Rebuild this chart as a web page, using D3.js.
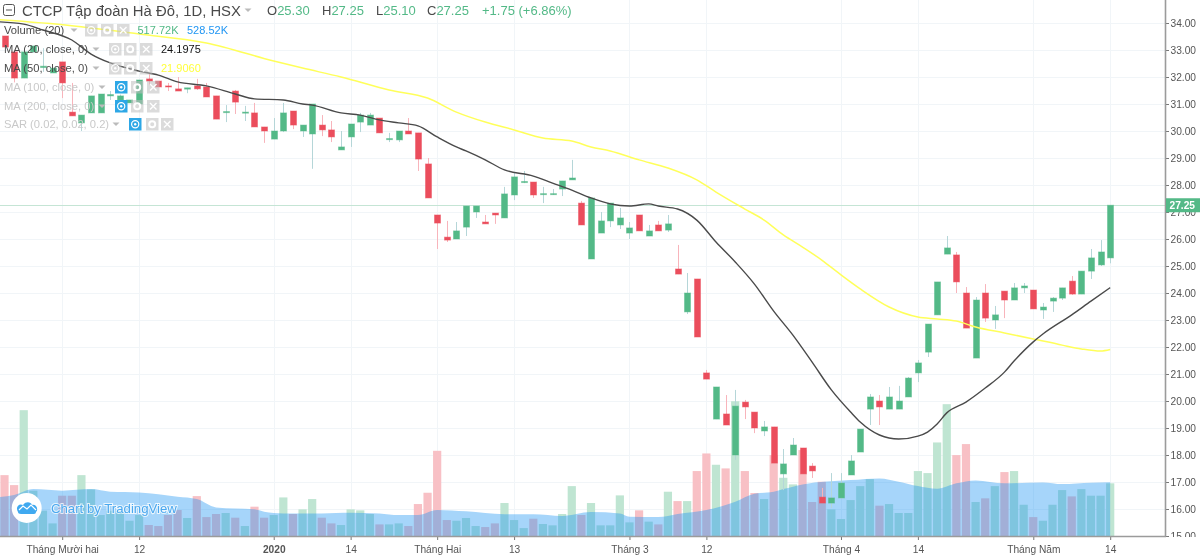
<!DOCTYPE html>
<html>
<head>
<meta charset="utf-8">
<script src="https://cdn.jsdelivr.net/npm/d3@7"></script>
<style>
  html, body { margin: 0; padding: 0; background: #fff; overflow: hidden; }
  svg { display: block; font-family: "Liberation Sans", Arial, sans-serif; filter: blur(.3px); }
</style>
</head>
<body>
<div id="chart"></div>
<script>
// candles, oldest first
const opens = [33.52,32.93,31.96,32.93,32.35,32.15,32.56,30.70,30.30,30.67,30.67,31.30,31.15,31.04,31.00,31.93,31.85,31.67,31.56,31.55,31.67,31.63,31.30,30.68,31.48,30.66,30.67,30.15,29.70,30.00,30.74,30.00,29.89,30.22,30.04,29.30,29.78,30.33,30.22,30.48,29.68,29.67,30.00,29.93,28.78,26.89,26.07,26.00,26.44,27.00,26.63,26.96,26.78,27.63,28.09,28.11,27.66,27.66,27.85,28.19,27.33,25.26,26.22,26.67,26.52,26.22,26.89,26.11,26.52,26.33,24.89,23.30,24.52,21.04,19.33,19.52,18.00,19.96,19.59,18.89,19.04,17.30,18.00,18.26,17.59,16.44,16.22,16.41,17.26,18.11,19.70,20.00,19.70,19.70,20.15,21.04,21.81,23.19,25.44,25.41,24.00,21.59,24.00,23.00,24.07,23.74,24.19,24.11,23.37,23.70,23.81,24.44,23.96,24.81,25.04,25.30];
const highs = [33.52,33.00,33.00,33.15,33.07,32.33,32.56,31.78,30.59,31.30,31.37,31.48,31.35,31.15,31.89,32.11,31.85,31.78,32.00,31.60,31.93,31.78,31.30,30.96,31.52,30.93,31.04,30.15,30.48,31.04,30.74,30.22,31.00,30.59,30.37,30.00,30.26,30.67,30.67,30.48,29.93,30.00,30.48,29.93,29.00,26.89,26.67,26.63,27.22,27.22,26.89,26.96,27.93,28.48,28.52,28.11,27.93,27.85,28.15,28.93,27.41,27.52,27.00,27.33,27.15,26.63,26.89,26.52,26.67,26.89,25.78,24.74,24.52,21.15,20.52,20.22,20.41,20.04,19.59,19.26,19.04,18.22,18.63,18.26,17.70,16.78,17.33,17.33,18.00,18.96,20.26,20.22,20.52,20.56,20.89,21.52,22.85,24.41,26.11,25.52,24.22,23.85,24.33,23.52,24.07,24.37,24.37,24.11,23.63,23.85,24.19,24.63,24.81,25.63,25.96,27.25];
const lows = [33.11,31.80,31.96,32.90,32.19,32.15,31.22,30.56,30.00,30.67,30.67,31.15,31.10,31.04,31.00,31.70,31.63,31.48,31.48,31.40,31.52,31.26,30.44,30.33,30.63,30.37,30.15,29.56,29.70,29.96,30.07,29.78,28.60,29.81,29.59,29.30,29.41,29.96,30.22,29.93,29.59,29.59,29.89,28.52,27.52,25.63,25.89,26.00,26.11,26.78,26.56,26.56,26.78,27.44,28.07,27.52,27.33,27.63,27.59,28.19,26.52,25.26,26.22,26.44,26.37,26.00,26.30,26.11,26.30,26.26,24.70,23.22,22.37,20.81,19.33,19.11,17.82,19.33,18.81,18.70,17.70,16.70,18.00,17.30,17.15,16.22,16.04,16.37,17.26,18.11,19.11,19.11,19.70,19.70,20.15,20.70,21.63,23.19,25.44,24.00,22.70,21.59,22.93,22.67,23.07,23.74,24.00,23.41,23.04,23.30,23.74,23.93,23.96,24.52,25.00,25.10];
const closes = [33.11,31.96,32.93,33.15,32.40,32.33,31.78,30.56,30.59,31.30,31.37,31.35,31.30,31.15,31.89,31.85,31.63,31.63,31.48,31.60,31.56,31.26,30.44,30.72,31.07,30.70,30.15,30.00,30.00,30.67,30.22,30.22,31.00,30.04,29.78,29.41,30.26,30.59,30.59,29.93,29.72,30.00,29.89,28.96,27.52,26.59,25.96,26.30,27.22,27.22,26.56,26.89,27.67,28.30,28.13,27.63,27.68,27.68,28.15,28.26,26.52,27.52,26.67,27.33,26.78,26.41,26.30,26.30,26.30,26.56,24.70,24.00,22.37,20.81,20.52,19.11,19.81,19.78,19.00,19.04,17.70,17.67,18.37,17.30,17.41,16.22,16.41,16.96,17.78,18.96,20.15,19.78,20.15,20.00,20.85,21.41,22.85,24.41,25.67,24.41,22.70,23.74,23.07,23.19,23.74,24.19,24.26,23.41,23.48,23.81,24.19,23.96,24.81,25.30,25.52,27.25];
// volume in thousands
const volumes = [598,500,1236,445,249,124,396,396,598,458,206,249,249,150,206,108,98,206,255,177,392,186,216,226,180,98,288,180,206,379,216,262,363,180,124,108,262,252,216,114,114,124,98,314,425,837,157,150,177,98,88,124,324,157,78,170,118,105,216,490,206,324,105,105,399,134,252,141,114,435,343,343,638,811,700,664,1324,638,422,363,795,572,507,844,334,533,262,167,353,490,559,298,314,226,226,638,618,919,1295,795,903,334,370,490,628,638,307,186,150,307,451,389,461,396,396,517.72];

// moving averages at these bars
const ma20Days = [-1,2,4,7,9,11,14,16,18,21,24,26,29,31,32,35,37,39,41,43,45,47,48,50,52,55,57,59,61,63,65,67,68,70,72,74,76,78,80,82,84,86,88,89,91,93,95,96,97,98,100,102,104,105,107,108,111,113,115];
const ma20Values = [34.05,33.96,33.74,33.37,32.85,32.52,32.22,32.07,31.82,31.67,31.37,31.19,31.15,31.00,30.96,30.67,30.59,30.41,30.30,30.19,29.78,29.41,29.26,28.93,28.56,28.33,28.07,27.81,27.52,27.30,27.22,27.30,27.22,27.11,26.70,25.89,25.15,24.33,23.33,22.44,21.44,20.41,19.59,19.22,18.74,18.59,18.70,18.85,19.15,19.56,19.96,20.48,21.07,21.48,22.19,22.48,23.19,23.70,24.1975];
const ma50Days = [-1,7,14,21,28,31,35,40,44,47,50,53,56,59,61,63,66,69,72,74,77,79,81,83,85,87,89,92,95,97,99,101,104,107,110,112,114,115];
const ma50Values = [34.13,33.90,33.59,33.26,32.59,32.33,32.00,31.52,31.22,30.70,30.33,30.04,29.74,29.63,29.41,29.26,28.93,28.63,28.19,27.74,27.11,26.70,26.15,25.70,25.22,24.67,24.15,23.48,23.11,23.04,22.96,22.74,22.52,22.30,22.07,21.93,21.85,21.906];
const volMaDays = [-1,1,3,6,9,11,14,18,20,22,26,27,29,33,36,39,41,43,45,48,52,55,58,61,64,65,68,70,73,76,78,80,81,83,88,91,93,95,97,99,101,104,108,110,113,115];
const volMaValues = [380,402,461,445,461,435,428,386,363,281,262,239,222,222,229,222,206,206,255,242,213,213,196,235,222,190,186,216,255,337,415,435,461,507,549,566,533,490,464,517,546,517,526,510,523,528.52];

const priceTicks = d3.range(15, 36);
const timeTicks = [6,14,28,36,45,53,65,73,87,95,107,115];
const timeLabels = ["Tháng Mười hai","12","2020","14","Tháng Hai","13","Tháng 3","12","Tháng 4","14","Tháng Năm","14"];
const lastPrice = 27.25;

const width = 1200, height = 558;
const axisX = 1165, axisY = 536;
const up = "#53b987", down = "#eb4d5c";

const svg = d3.select("#chart").append("svg").attr("width", width).attr("height", height);

const x = d3.scaleLinear().domain([0, 115]).range([4.5, 1110.2]);
const y = d3.scaleLinear().domain([34, 16]).range([23, 509]);
const yVol = d3.scaleLinear().domain([0, 517.72]).range([axisY, 483.3]);

const defs = svg.append("defs");
defs.append("clipPath").attr("id", "pane").append("rect").attr("width", axisX).attr("height", axisY);
defs.append("clipPath").attr("id", "priceClip").append("rect").attr("x", -2).attr("width", width - axisX + 2).attr("height", axisY + 1);

const pane = svg.append("g").attr("clip-path", "url(#pane)");

// grid
pane.append("g").selectAll("line").data(priceTicks).join("line")
  .attr("x1", 0).attr("x2", axisX)
  .attr("y1", d => Math.round(y(d)) + .5).attr("y2", d => Math.round(y(d)) + .5)
  .attr("stroke", "#f1f5f8");
pane.append("g").selectAll("line").data(timeTicks).join("line")
  .attr("y1", 0).attr("y2", axisY)
  .attr("x1", d => Math.round(x(d)) + .5).attr("x2", d => Math.round(x(d)) + .5)
  .attr("stroke", "#f1f5f8");

// volume bars
const isUp = i => closes[i] >= opens[i];
pane.append("g").selectAll("rect").data(volumes).join("rect")
  .attr("x", (d, i) => x(i) - 4.1).attr("width", 8.2)
  .attr("y", d => yVol(d)).attr("height", d => axisY - yVol(d))
  .attr("fill", (d, i) => isUp(i) ? "#bfe5d2" : "#f8c0c5");

// volume average
const volArea = d3.area()
  .x((d, i) => x(volMaDays[i]))
  .y0(axisY)
  .y1(d => yVol(d))
  .curve(d3.curveMonotoneX);
pane.append("path").datum(volMaValues).attr("d", volArea)
  .attr("fill", "#2196f3").attr("fill-opacity", .4);

// last price line
pane.append("line").attr("x1", 0).attr("x2", axisX)
  .attr("y1", Math.round(y(lastPrice)) + .5).attr("y2", Math.round(y(lastPrice)) + .5)
  .attr("stroke", "#c5e5d5");

// candles
const candles = pane.append("g").selectAll("g").data(opens).join("g");
candles.append("line")
  .attr("x1", (d, i) => Math.round(x(i)) + .5).attr("x2", (d, i) => Math.round(x(i)) + .5)
  .attr("y1", (d, i) => y(highs[i])).attr("y2", (d, i) => y(lows[i]))
  .attr("stroke", (d, i) => isUp(i) ? "#b5d6d8" : "#f8b4bb");
candles.append("rect")
  .attr("x", (d, i) => Math.round(x(i)) - 2.5).attr("width", 6)
  .attr("y", (d, i) => Math.min(y(opens[i]), y(closes[i])))
  .attr("height", (d, i) => Math.max(1, Math.abs(y(opens[i]) - y(closes[i]))))
  .attr("fill", (d, i) => isUp(i) ? up : down)
  .attr("stroke", (d, i) => isUp(i) ? up : down)
  .attr("stroke-opacity", .45);

// moving average lines
const maLine = days => d3.line().x((d, i) => x(days[i])).y(d => y(d)).curve(d3.curveMonotoneX);
pane.append("path").datum(ma50Values).attr("d", maLine(ma50Days))
  .attr("fill", "none").attr("stroke", "#ffff5a").attr("stroke-width", 1.5);
pane.append("path").datum(ma20Values).attr("d", maLine(ma20Days))
  .attr("fill", "none").attr("stroke", "#4a4a4a").attr("stroke-width", 1.4);

// axes
const priceAxis = svg.append("g")
  .attr("transform", `translate(${axisX},0)`)
  .attr("clip-path", "url(#priceClip)")
  .call(d3.axisRight(y).tickValues(priceTicks).tickFormat(d3.format(".2f")).tickSize(4).tickPadding(1.5));
const timeAxis = svg.append("g")
  .attr("transform", `translate(0,${axisY})`)
  .call(d3.axisBottom(x).tickValues(timeTicks).tickFormat((d, i) => timeLabels[i]).tickSize(4).tickPadding(6));
priceAxis.selectAll("text").attr("font-size", 10.2).attr("fill", "#555").attr("font-family", "Liberation Sans");
priceAxis.selectAll("line").attr("stroke", "#777");
priceAxis.select(".domain").remove();
timeAxis.selectAll("text").attr("font-size", 10.2).attr("fill", "#555").attr("font-family", "Liberation Sans");
timeAxis.selectAll("text").filter((d, i) => timeLabels[i] === "2020").attr("font-weight", "bold");
timeAxis.selectAll("line").attr("stroke", "#777");
timeAxis.select(".domain").remove();

svg.append("line").attr("x1", axisX + .5).attr("x2", axisX + .5).attr("y1", 0).attr("y2", axisY + 1)
  .attr("stroke", "#9b9b9b").attr("stroke-width", 1.6);
svg.append("line").attr("x1", 0).attr("x2", axisX + 1).attr("y1", axisY + .5).attr("y2", axisY + .5)
  .attr("stroke", "#9b9b9b").attr("stroke-width", 1.6);

// last price tag
svg.append("rect").attr("x", axisX + 1).attr("y", y(lastPrice) - 7).attr("width", width - axisX).attr("height", 14).attr("fill", up);
svg.append("text").attr("x", 1169.5).attr("y", y(lastPrice) + 3.8)
  .attr("font-size", 10.2).attr("font-weight", "bold").attr("fill", "#fff").text("27.25");

// watermark
const mark = svg.append("g");
mark.append("circle").attr("cx", 26.7).attr("cy", 508).attr("r", 15).attr("fill", "#fff");
mark.append("path").attr("d", "M18 512 C15 507 19 503 23 505 C26 501 31 502 32 505 C36 504 39 509 36 512 C36 514 34 514 33 514 L21 514 C19 514 18 513 18 512 Z")
  .attr("fill", "#3fa9f0");
mark.append("path").attr("d", "M19 510 L23 506 L27 509 L31 505 L36 510")
  .attr("fill", "none").attr("stroke", "#fff").attr("stroke-width", 1.2);
mark.append("text").attr("x", 51).attr("y", 512.5).attr("font-size", 13.2).attr("fill", "#4aa8ef")
  .attr("stroke", "#fff").attr("stroke-opacity", .75).attr("stroke-width", 2).attr("paint-order", "stroke").text("Chart by TradingView");

// header
const header = svg.append("g");
header.append("rect").attr("x", 3.5).attr("y", 4.5).attr("width", 11).attr("height", 11).attr("rx", 2)
  .attr("fill", "none").attr("stroke", "#555");
header.append("line").attr("x1", 6).attr("x2", 12).attr("y1", 10).attr("y2", 10).attr("stroke", "#555");
header.append("text").attr("x", 22).attr("y", 15.5).attr("font-size", 14.85).attr("fill", "#4a4a4a")
  .text("CTCP Tập đoàn Hà Đô, 1D, HSX");
const tri = (g, px, py) => g.append("path").attr("d", `M${px - 3.5} ${py - 1.5}H${px + 3.5}L${px} ${py + 2}Z`).attr("fill", "#bbb");
tri(header, 248, 10);
const ohlc = [
  ["O", "25.30", 267], ["H", "27.25", 322], ["L", "25.10", 376], ["C", "27.25", 427]
];
ohlc.forEach(([k, v, px]) => {
  const t = header.append("text").attr("x", px).attr("y", 15).attr("font-size", 13).attr("fill", "#4a4a4a");
  t.append("tspan").text(k);
  t.append("tspan").attr("fill", up).text(v);
});
header.append("text").attr("x", 482).attr("y", 15).attr("font-size", 13).attr("fill", up).text("+1.75 (+6.86%)");

// study rows
const rows = [
  { name: "Volume (20)", cy: 30, tx: 74, eye: 85, gear: 101, close: 117, on: true },
  { name: "MA (20, close, 0)", cy: 49, tx: 96, eye: 109, gear: 124, close: 140, on: true },
  { name: "MA (50, close, 0)", cy: 68, tx: 96, eye: 109, gear: 124, close: 140, on: true },
  { name: "MA (100, close, 0)", cy: 87, tx: 102, eye: 115, gear: 131, close: 147, on: false },
  { name: "MA (200, close, 0)", cy: 106, tx: 102, eye: 115, gear: 131, close: 147, on: false },
  { name: "SAR (0.02, 0.02, 0.2)", cy: 124, tx: 116, eye: 129, gear: 146, close: 161, on: false }
];
const box = "rgba(190,190,190,.55)";
rows.forEach(r => {
  const g = svg.append("g");
  g.append("text").attr("x", 4).attr("y", r.cy + 4).attr("font-size", 11.2)
    .attr("fill", r.on ? "#4a4a4a" : "#c9c9c9").text(r.name);
  tri(g, r.tx, r.cy);
  g.append("rect").attr("x", r.eye).attr("y", r.cy - 6).attr("width", 12.5).attr("height", 12.5)
    .attr("fill", r.on ? box : "#2da7e6");
  g.append("circle").attr("cx", r.eye + 6.2).attr("cy", r.cy + .2).attr("r", 3.6).attr("fill", "none").attr("stroke", "#fff").attr("stroke-width", 1.2);
  g.append("circle").attr("cx", r.eye + 6.2).attr("cy", r.cy + .2).attr("r", 1.2).attr("fill", "#fff");
  g.append("rect").attr("x", r.gear).attr("y", r.cy - 6).attr("width", 12.5).attr("height", 12.5).attr("fill", box);
  g.append("circle").attr("cx", r.gear + 6.2).attr("cy", r.cy + .2).attr("r", 3).attr("fill", "none").attr("stroke", "#fff").attr("stroke-width", 2);
  g.append("rect").attr("x", r.close).attr("y", r.cy - 6).attr("width", 12.5).attr("height", 12.5).attr("fill", box);
  g.append("path").attr("d", `M${r.close + 3} ${r.cy - 3}L${r.close + 9.5} ${r.cy + 3.5}M${r.close + 9.5} ${r.cy - 3}L${r.close + 3} ${r.cy + 3.5}`)
    .attr("stroke", "#fff").attr("stroke-width", 1.4);
});
const rowValues = [
  ["517.72K", 137.5, 34, up], ["528.52K", 187, 34, "#2196f3"],
  ["24.1975", 161, 53, "#111"], ["21.9060", 161, 72, "#ffff3c"]
];
rowValues.forEach(([t, px, py, c]) => {
  svg.append("text").attr("x", px).attr("y", py).attr("font-size", 11).attr("fill", c).text(t);
});
</script>
</body>
</html>
